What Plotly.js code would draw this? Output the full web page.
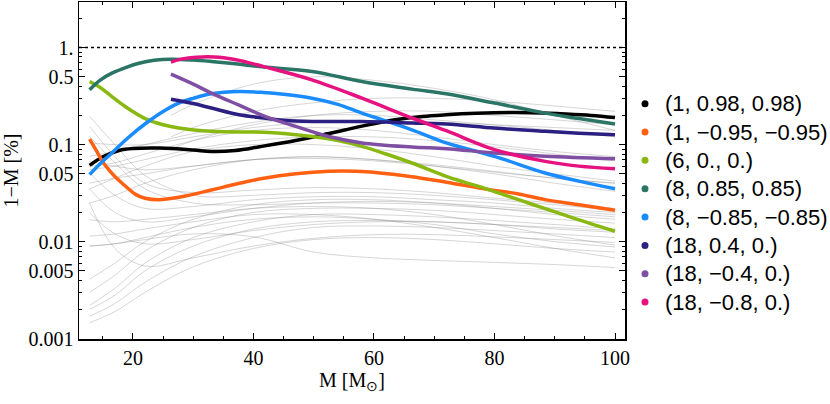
<!DOCTYPE html>
<html><head><meta charset="utf-8">
<script src="https://cdn.plot.ly/plotly-3.0.1.min.js"></script>
<style>html,body{margin:0;padding:0;background:#fff}#chart{width:830px;height:404px}</style>
</head><body><div id="chart"></div>
<script>
// ---- series labels and colours ----
const seriesNames = ["(1, 0.98, 0.98)", "(1, \u22120.95, \u22120.95)", "(6, 0., 0.)", "(8, 0.85, 0.85)",
  "(8, \u22120.85, \u22120.85)", "(18, 0.4, 0.)", "(18, \u22120.4, 0.)", "(18, \u22120.8, 0.)"];
const seriesColors = ["#000000", "#FF6012", "#8AB812", "#2B7566", "#1A8CFF", "#2B1F82", "#7E4FA3", "#E6127F"];

// ---- highlighted curves (M, 1-M in %) ----
const blackX = [12.8, 15, 17.7, 20, 24.5, 30, 33, 37, 41, 47, 52.5, 58, 63.5, 68, 72, 77, 83, 88, 91, 96, 100];
const blackY = [0.061, 0.075, 0.087, 0.091, 0.092, 0.088, 0.085, 0.087, 0.095, 0.11, 0.13, 0.155, 0.18, 0.195, 0.203, 0.21, 0.214, 0.212, 0.208, 0.2, 0.19];
const orangeX = [12.8, 14, 15, 16, 17, 18.2, 20.5, 22, 24.3, 27.6, 33, 37, 41.7, 47, 52.5, 57, 61, 66, 72, 79, 84, 88.4, 94, 100];
const orangeY = [0.114, 0.085, 0.066, 0.055, 0.047, 0.040, 0.0305, 0.028, 0.027, 0.0286, 0.034, 0.039, 0.045, 0.05, 0.053, 0.053, 0.051, 0.047, 0.041, 0.0344, 0.031, 0.0271, 0.024, 0.021];
const greenX = [12.8, 14.5, 16.5, 19, 22.2, 25, 27.6, 33, 41.7, 45, 49.7, 54, 58, 62, 66.3, 72, 75, 79, 85.6, 93, 100];
const greenY = [0.447, 0.39, 0.313, 0.24, 0.183, 0.16, 0.148, 0.137, 0.134, 0.13, 0.121, 0.11, 0.096, 0.08, 0.0646, 0.047, 0.041, 0.0344, 0.025, 0.0176, 0.0128];
const tealX = [12.8, 14.5, 16.5, 19, 21, 23.5, 26.3, 30, 33, 37, 41.7, 49.7, 58, 66.3, 72, 80, 88.4, 94, 100];
const tealY = [0.367, 0.46, 0.545, 0.63, 0.69, 0.74, 0.76, 0.745, 0.72, 0.68, 0.63, 0.567, 0.447, 0.373, 0.334, 0.268, 0.211, 0.186, 0.163];
const blueX = [12.8, 14.5, 16.5, 19, 22.2, 25, 27.6, 30, 33, 37.6, 41.7, 45, 49.7, 54, 58, 62, 66.3, 72, 80, 88.4, 94, 100];
const blueY = [0.049, 0.063, 0.082, 0.115, 0.167, 0.22, 0.268, 0.3, 0.334, 0.352, 0.344, 0.33, 0.301, 0.26, 0.211, 0.175, 0.142, 0.104, 0.0756, 0.051, 0.042, 0.035];
const navyX = [26.3, 30, 33, 37.6, 41.7, 45, 49.7, 58, 66.3, 72, 80, 88.4, 94, 100];
const navyY = [0.294, 0.265, 0.238, 0.203, 0.188, 0.178, 0.173, 0.173, 0.167, 0.163, 0.148, 0.137, 0.131, 0.126];
const purpleX = [26.3, 30, 33, 37.6, 41.7, 47, 52.5, 58, 66.3, 72, 80, 88.4, 100];
const purpleY = [0.532, 0.42, 0.34, 0.255, 0.198, 0.154, 0.121, 0.104, 0.0944, 0.0907, 0.082, 0.076, 0.0716];
const pinkX = [26.3, 28, 30.5, 34.3, 38, 41.7, 49.7, 58, 66.3, 72, 80, 88.4, 94, 100];
const pinkY = [0.708, 0.76, 0.796, 0.796, 0.73, 0.637, 0.465, 0.301, 0.188, 0.139, 0.0887, 0.0672, 0.06, 0.0565];

// ---- background (grey) curves ----
const greyX = [12.8, 17, 22, 30, 40, 50, 60, 70, 80, 90, 100];
const greyY = [
  [0.00146, 0.0019, 0.003, 0.0055, 0.0085, 0.0105, 0.011, 0.0105, 0.0095, 0.0085, 0.0078],
  [0.0017, 0.0023, 0.0038, 0.007, 0.011, 0.014, 0.0145, 0.014, 0.013, 0.012, 0.011],
  [0.0020, 0.0028, 0.005, 0.009, 0.0135, 0.016, 0.0165, 0.016, 0.015, 0.0135, 0.0125],
  [0.0022, 0.0033, 0.006, 0.011, 0.016, 0.019, 0.019, 0.018, 0.0165, 0.015, 0.0135],
  [0.0030, 0.0045, 0.008, 0.014, 0.02, 0.022, 0.022, 0.021, 0.019, 0.017, 0.0155],
  [0.0041, 0.006, 0.01, 0.017, 0.024, 0.027, 0.027, 0.025, 0.022, 0.019, 0.017],
  [0.009, 0.0095, 0.0105, 0.012, 0.0112, 0.0078, 0.0068, 0.0064, 0.0061, 0.0058, 0.0054],
  [0.009, 0.0095, 0.011, 0.014, 0.017, 0.018, 0.017, 0.015, 0.012, 0.010, 0.0088],
  [0.0114, 0.012, 0.0135, 0.016, 0.019, 0.019, 0.017, 0.014, 0.011, 0.0085, 0.0068],
  [0.0168, 0.016, 0.017, 0.019, 0.022, 0.023, 0.022, 0.019, 0.015, 0.0115, 0.0092],
  [0.025, 0.0085, 0.0056, 0.0068, 0.009, 0.0108, 0.0118, 0.0118, 0.0112, 0.0105, 0.0098],
  [0.0198, 0.012, 0.0095, 0.0105, 0.013, 0.015, 0.016, 0.016, 0.015, 0.014, 0.013],
  [0.035, 0.02, 0.016, 0.018, 0.022, 0.025, 0.026, 0.025, 0.023, 0.021, 0.019],
  [0.051, 0.03, 0.022, 0.023, 0.027, 0.029, 0.029, 0.027, 0.025, 0.022, 0.020],
  [0.195, 0.1, 0.048, 0.03, 0.03, 0.032, 0.032, 0.03, 0.027, 0.024, 0.021],
  [0.154, 0.075, 0.04, 0.032, 0.034, 0.036, 0.035, 0.032, 0.028, 0.025, 0.022],
  [0.122, 0.065, 0.035, 0.025, 0.024, 0.025, 0.025, 0.024, 0.022, 0.02, 0.018],
  [0.025, 0.03, 0.04, 0.055, 0.07, 0.075, 0.07, 0.06, 0.05, 0.04, 0.033],
  [0.035, 0.045, 0.06, 0.085, 0.1, 0.1, 0.09, 0.075, 0.06, 0.05, 0.042],
  [0.06, 0.065, 0.08, 0.11, 0.14, 0.15, 0.14, 0.12, 0.1, 0.085, 0.075],
  [0.076, 0.085, 0.1, 0.13, 0.17, 0.2, 0.2, 0.18, 0.16, 0.14, 0.12],
  [0.104, 0.1, 0.1, 0.12, 0.15, 0.17, 0.175, 0.17, 0.16, 0.15, 0.14],
  [0.055, 0.06, 0.07, 0.09, 0.11, 0.12, 0.12, 0.11, 0.095, 0.08, 0.068],
  [0.067, 0.06, 0.055, 0.06, 0.07, 0.075, 0.07, 0.062, 0.053, 0.045, 0.04],
  [0.04, 0.045, 0.05, 0.06, 0.07, 0.072, 0.068, 0.06, 0.052, 0.045, 0.04]
];
const greyLateX = [26.3, 30, 40, 50, 60, 70, 80, 90, 100];
const greyLateY = [
  [0.12, 0.15, 0.22, 0.27, 0.3, 0.3, 0.28, 0.25, 0.22],
  [0.09, 0.11, 0.16, 0.2, 0.22, 0.22, 0.2, 0.18, 0.16],
  [0.2, 0.26, 0.42, 0.5, 0.46, 0.38, 0.29, 0.2, 0.14]
];

// ---- axis ticks ----
const yTickVals = [0.001, 0.005, 0.01, 0.05, 0.1, 0.5, 1];
const yTickText = ["0.001", "0.005", "0.01", "0.05", "0.1", "0.5", "1."];
const yMinorVals = [0.002, 0.003, 0.004, 0.006, 0.007, 0.008, 0.009, 0.02, 0.03, 0.04, 0.06, 0.07, 0.08, 0.09,
  0.2, 0.3, 0.4, 0.6, 0.7, 0.8, 0.9, 2, 3];

const curveX = [blackX, orangeX, greenX, tealX, blueX, navyX, purpleX, pinkX];
const curveY = [blackY, orangeY, greenY, tealY, blueY, navyY, purpleY, pinkY];

const traces = [];
greyY.forEach(ys => traces.push({x: greyX, y: ys, mode: 'lines', showlegend: false, hoverinfo: 'skip',
  line: {color: 'rgba(140,140,140,0.45)', width: 0.8, shape: 'spline'}}));
greyLateY.forEach(ys => traces.push({x: greyLateX, y: ys, mode: 'lines', showlegend: false, hoverinfo: 'skip',
  line: {color: 'rgba(140,140,140,0.45)', width: 0.8, shape: 'spline'}}));
curveX.forEach((xs, i) => traces.push({x: xs, y: curveY[i], mode: 'lines', showlegend: false, name: seriesNames[i],
  line: {color: seriesColors[i], width: 3.5, shape: 'spline'}}));
seriesNames.forEach((n, i) => traces.push({x: [null], y: [null], mode: 'markers',
  name: '<span style="font-size:22px">' + n + '</span>',
  marker: {color: seriesColors[i], size: 7}}));

const layout = {
  width: 830, height: 404,
  margin: {l: 79, r: 205, t: 2, b: 65, autoexpand: false},
  paper_bgcolor: '#fff', plot_bgcolor: '#fff',
  font: {family: 'Liberation Serif, Times New Roman, serif', size: 20, color: '#000'},
  xaxis: {
    range: [11.04, 101.66], showgrid: false, zeroline: false, automargin: false,
    showline: true, linecolor: '#000', linewidth: 1.5, mirror: 'allticks',
    ticks: 'inside', ticklen: 6, tickwidth: 1, tickcolor: '#000',
    tickmode: 'linear', tick0: 0, dtick: 20,
    minor: {tickmode: 'linear', tick0: 0, dtick: 5, ticks: 'inside', ticklen: 3, tickcolor: '#000', tickwidth: 1},
    tickfont: {family: 'Liberation Serif, serif', size: 20},
    title: {text: 'M [M<sub>\u2299</sub>]', font: {family: 'Liberation Serif, serif', size: 20}, standoff: 0}
  },
  yaxis: {
    type: 'log', range: [-3.004, 0.47], showgrid: false, zeroline: false, automargin: false,
    showline: true, linecolor: '#000', linewidth: 1.5, mirror: 'allticks',
    ticks: 'inside', ticklen: 6, tickwidth: 1, tickcolor: '#000',
    tickmode: 'array', tickvals: yTickVals, ticktext: yTickText,
    minor: {tickmode: 'array', tickvals: yMinorVals, ticks: 'inside', ticklen: 3, tickcolor: '#000', tickwidth: 1},
    tickfont: {family: 'Liberation Serif, serif', size: 20},
    title: {text: '1\u2212M [%]', font: {family: 'Liberation Serif, serif', size: 20}, standoff: 4}
  },
  shapes: [{type: 'line', xref: 'paper', x0: 0, x1: 1, yref: 'y', y0: 1, y1: 1,
    line: {color: '#000', width: 1.5, dash: '3px,3px'}}],
  legend: {x: 1.0, xanchor: 'left', y: 0.4036, yanchor: 'middle',
    font: {family: 'Liberation Sans, Arial, sans-serif', size: 19.5},
    tracegroupgap: 0, bgcolor: 'rgba(0,0,0,0)'},
  showlegend: true
};

Plotly.newPlot('chart', traces, layout, {displayModeBar: false, staticPlot: true});
</script>
</body></html>
